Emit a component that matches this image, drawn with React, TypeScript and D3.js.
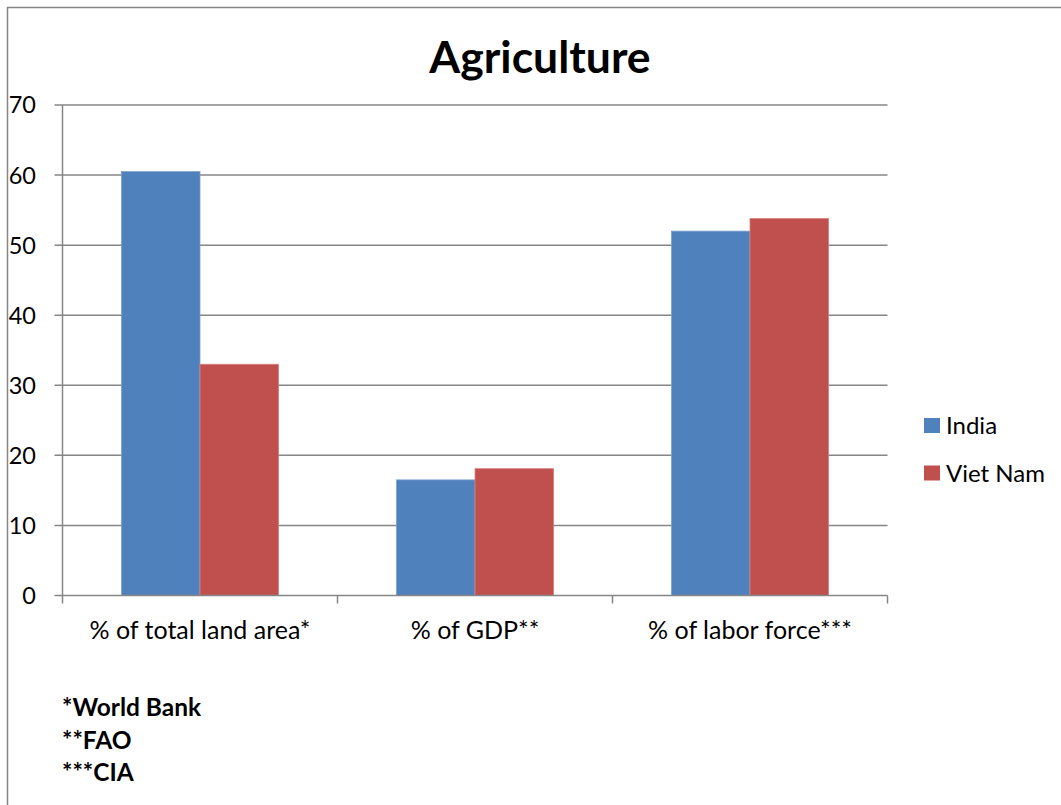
import React, { useEffect, useRef } from "react";
import * as d3 from "d3";

const categories = ["% of total land area*", "% of GDP**", "% of labor force***"];
const seriesNames = ["India", "Viet Nam"];
const india = [60.5, 16.5, 52.0];
const vietnam = [33.0, 18.1, 53.8];
const yTicks = [0, 10, 20, 30, 40, 50, 60, 70];
const footnotes = ["*World Bank", "**FAO", "***CIA"];
const colors = ["#4F81BD", "#C0504D"];
const title = "Agriculture";

const FONT = "Lato, 'Open Sans', sans-serif";

export default function App() {
  const ref = useRef<SVGSVGElement | null>(null);

  useEffect(() => {
    const svg = d3.select(ref.current);
    svg.selectAll("*").remove();
    const W = 1061, H = 805;
    const left = 62.5, right = 887.5, top = 105, bottom = 595.5;

    svg.append("rect").attr("x", 0).attr("y", 0).attr("width", W).attr("height", H).attr("fill", "#fff");
    // outer border (left & top visible)
    svg.append("path").attr("d", `M7.5,${H} V7.5 H${W}`).attr("fill", "none").attr("stroke", "#868686").attr("stroke-width", 1.5);

    const x0 = d3.scaleBand<string>().domain(categories).range([left, right]).paddingInner(0).paddingOuter(0);
    const y = d3.scaleLinear().domain([0, 70]).range([bottom, top]);
    const groupW = x0.bandwidth() * (2 / 3.5);
    const x1 = d3.scaleBand<string>().domain(seriesNames).range([0, groupW]);

    // gridlines
    svg.append("g").selectAll("line").data(yTicks.filter(d => d > 0)).join("line")
      .attr("x1", left - 8).attr("x2", right)
      .attr("y1", d => y(d)).attr("y2", d => y(d))
      .attr("stroke", "#868686").attr("stroke-width", 1.5);

    // bars
    const data = [india, vietnam];
    seriesNames.forEach((s, si) => {
      svg.append("g").selectAll("rect").data(categories).join("rect")
        .attr("x", (c) => (x0(c) as number) + (x0.bandwidth() - groupW) / 2 + (x1(s) as number))
        .attr("width", x1.bandwidth())
        .attr("y", (c, i) => y(data[si][i]))
        .attr("height", (c, i) => bottom - y(data[si][i]))
        .attr("fill", colors[si])
        .attr("stroke", si === 0 ? "#7FA1CE" : "#D9807E").attr("stroke-width", 0.8);
    });

    // axes lines
    svg.append("line").attr("x1", left).attr("x2", left).attr("y1", top).attr("y2", bottom)
      .attr("stroke", "#868686").attr("stroke-width", 1.5);
    svg.append("line").attr("x1", left - 8).attr("x2", right).attr("y1", bottom).attr("y2", bottom)
      .attr("stroke", "#868686").attr("stroke-width", 1.5);
    // x ticks
    const xt = [left, ...categories.map(c => (x0(c) as number) + x0.bandwidth())];
    svg.append("g").selectAll("line").data(xt).join("line")
      .attr("x1", d => d).attr("x2", d => d).attr("y1", bottom).attr("y2", bottom + 8)
      .attr("stroke", "#868686").attr("stroke-width", 1.5);

    // y tick labels
    svg.append("g").selectAll("text").data(yTicks).join("text")
      .attr("x", 36).attr("y", d => y(d)).attr("dy", "0.36em")
      .attr("text-anchor", "end").attr("font-family", FONT).attr("font-size", 23.5).attr("fill", "#000")
      .text(d => String(d));

    // category labels
    svg.append("g").selectAll("text").data(categories).join("text")
      .attr("x", c => (x0(c) as number) + x0.bandwidth() / 2).attr("y", 639)
      .attr("text-anchor", "middle").attr("font-family", FONT).attr("font-size", 25).attr("fill", "#000")
      .text(c => c);

    // title
    svg.append("text").attr("x", 540).attr("y", 73).attr("text-anchor", "middle")
      .attr("font-family", FONT).attr("font-weight", "bold").attr("font-size", 44.5).attr("fill", "#000")
      .text(title);

    // legend
    seriesNames.forEach((s, i) => {
      const ly = 418 + i * 47.5;
      svg.append("rect").attr("x", 924).attr("y", ly).attr("width", 16).attr("height", 15).attr("fill", colors[i]);
      svg.append("text").attr("x", 946).attr("y", ly + 7.5).attr("dy", "0.36em")
        .attr("font-family", FONT).attr("font-size", 24).attr("fill", "#000").text(s);
    });

    // footnotes
    svg.append("g").selectAll("text").data(footnotes).join("text")
      .attr("x", 62).attr("y", (d, i) => 716 + i * 32.5)
      .attr("font-family", FONT).attr("font-weight", "bold").attr("font-size", 24.5).attr("fill", "#000")
      .text(d => d);
  }, []);

  return (
    <svg ref={ref} width={1061} height={805} style={{ position: "absolute", left: 0, top: 0, display: "block" }} />
  );
}
